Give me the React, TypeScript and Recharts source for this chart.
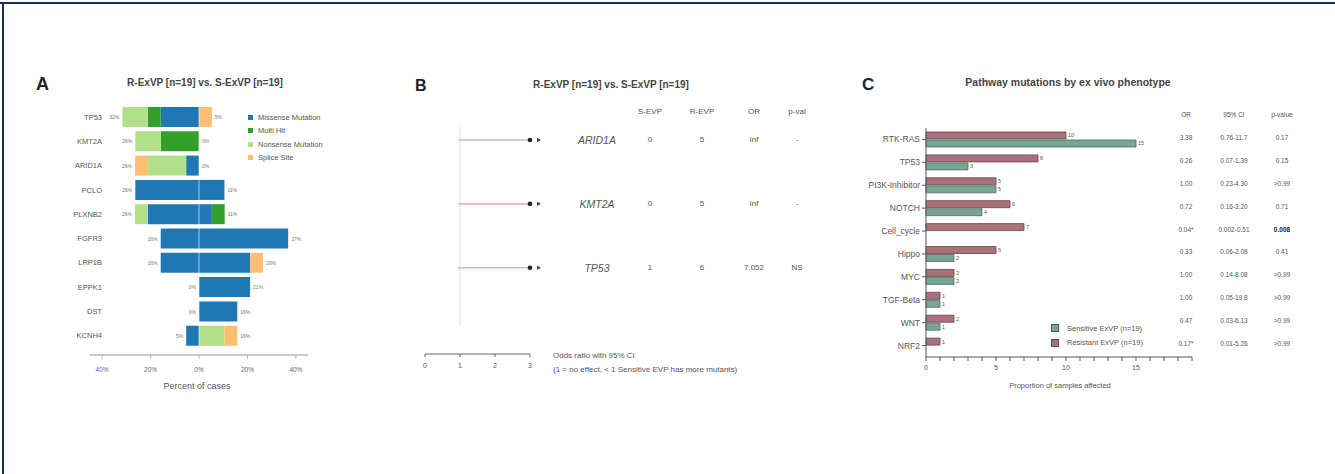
import {
  Bar,
  BarChart,
  ComposedChart,
  ErrorBar,
  LabelList,
  Legend,
  ReferenceLine,
  Scatter,
  XAxis,
  YAxis,
} from "recharts";

const FONT = "'Liberation Sans', Arial, Helvetica, sans-serif";

// ---- Panel A: mutation types, R-ExVP (left) vs S-ExVP (right), % of cases
const genesA = ["TP53", "KMT2A", "ARID1A", "PCLO", "PLXNB2", "FGFR3", "LRP1B", "EPPK1", "DST", "KCNH4"];
const rMissense = [15.8, 0, 5.3, 26.3, 21.1, 15.8, 15.8, 0, 0, 5.3];
const rMultiHit = [5.3, 15.8, 0, 0, 0, 0, 0, 0, 0, 0];
const rNonsense = [10.5, 10.5, 15.8, 0, 5.3, 0, 0, 0, 0, 0];
const rSplice = [0, 0, 5.3, 0, 0, 0, 0, 0, 0, 0];
const sMissense = [0, 0, 0, 10.5, 5.3, 36.8, 21.1, 21.1, 15.8, 0];
const sMultiHit = [0, 0, 0, 0, 5.3, 0, 0, 0, 0, 0];
const sNonsense = [0, 0, 0, 0, 0, 0, 0, 0, 0, 10.5];
const sSplice = [5.3, 0, 0, 0, 0, 0, 5.3, 0, 0, 5.3];
const rPctLabels = ["32%", "26%", "26%", "26%", "26%", "16%", "16%", "0%", "0%", "5%"];
const sPctLabels = ["5%", "0%", "0%", "11%", "11%", "37%", "26%", "21%", "16%", "16%"];
const ticksA = [-40, -20, 0, 20, 40];
const legendNamesA = ["Missense Mutation", "Multi Hit", "Nonsense Mutation", "Splice Site"];

// ---- Panel B: odds ratios
const genesB = ["ARID1A", "KMT2A", "TP53"];
const sEvp = [0, 0, 1];
const rEvp = [5, 5, 6];
const orText = ["Inf", "Inf", "7.052"];
const pText = ["-", "-", "NS"];
const orShown = [3, 3, 3]; // clipped at the axis end, arrow marks overflow
const ciLow = [0.95, 0.95, 0.93];
const rowPosB = [3, 2, 1];
const HEADER_POS = 3.45;

// ---- Panel C: pathway mutations
const pathways = ["RTK-RAS", "TP53", "PI3K-Inhibitor", "NOTCH", "Cell_cycle", "Hippo", "MYC", "TGF-Beta", "WNT", "NRF2"];
const resistant = [10, 8, 5, 6, 7, 5, 2, 1, 2, 1];
const sensitive = [15, 3, 5, 4, 0, 2, 2, 1, 1, 0];
const orC = ["3.38", "0.26", "1.00", "0.72", "0.04*", "0.33", "1.00", "1.00", "0.47", "0.17*"];
const ciC = ["0.76-11.7", "0.07-1.39", "0.23-4.30", "0.16-3.20", "0.002-0.51", "0.06-2.08", "0.14-8.08", "0.05-19.8", "0.03-6.13", "0.01-5.26"];
const pC = ["0.17", "0.15", ">0.99", "0.71", "0.008", "0.41", ">0.99", ">0.99", ">0.99", ">0.99"];
const sigC = [false, false, false, false, true, false, false, false, false, false];
const ticksC = Array.from({ length: 20 }, (_, i) => i);

const COL = {
  missense: "#1f78b4",
  multi: "#33a02c",
  nonsense: "#b2df8a",
  splice: "#fdbf6f",
  res: "#a8727a",
  resStroke: "#6b4148",
  sen: "#79a694",
  senStroke: "#4b6f61",
};

const sum = (...v: number[]) => v.reduce((a, b) => a + b, 0);

const rowsA = genesA.map((gene, i) => ({
  gene,
  rMis: -rMissense[i],
  rMul: -rMultiHit[i],
  rNon: -rNonsense[i],
  rSpl: -rSplice[i],
  sMis: sMissense[i],
  sMul: sMultiHit[i],
  sNon: sNonsense[i],
  sSpl: sSplice[i],
  lPos: -sum(rMissense[i], rMultiHit[i], rNonsense[i], rSplice[i]),
  rPos: sum(sMissense[i], sMultiHit[i], sNonsense[i], sSplice[i]),
  lText: rPctLabels[i],
  rText: sPctLabels[i],
}));

const rowsB = genesB.map((gene, i) => ({
  gene,
  pos: rowPosB[i],
  or: orShown[i],
  lo: ciLow[i],
}));

const rowsC = pathways.map((path, i) => ({ path, res: resistant[i], sen: sensitive[i] }));

function GeneTickA(props: any) {
  const { x, y, payload } = props;
  return (
    <text x={x + 20} y={y} textAnchor="end" dominantBaseline="central" fontSize={7.5} fill="#555">
      {payload.value}
    </text>
  );
}

function LegendBox({ payload, reverse }: any) {
  const items = reverse ? [...(payload || [])].reverse() : payload || [];
  return (
    <div style={{ fontFamily: FONT }}>
      {items.map((p: any) => (
        <div key={p.value} style={{ display: "flex", alignItems: "center", height: reverse ? 14.5 : 13.3, fontSize: 7.5, color: "#555", whiteSpace: "nowrap" }}>
          <span style={{ width: reverse ? 6 : 5, height: reverse ? 6 : 5, background: p.color, marginRight: reverse ? 8 : 5, border: reverse ? "0.8px solid #555" : "none" }} />
          {p.value}
        </div>
      ))}
    </div>
  );
}

function TableTickB(props: any) {
  const { x, y, payload } = props;
  const cols = [59, 112, 164, 216, 259];
  if (Math.abs(payload.value - HEADER_POS) < 0.01) {
    return (
      <g fontSize={8} fill="#555">
        <text x={x + cols[1]} y={y} textAnchor="middle" dominantBaseline="central">S-EVP</text>
        <text x={x + cols[2]} y={y} textAnchor="middle" dominantBaseline="central">R-EVP</text>
        <text x={x + cols[3]} y={y} textAnchor="middle" dominantBaseline="central">OR</text>
        <text x={x + cols[4]} y={y} textAnchor="middle" dominantBaseline="central">p-val</text>
      </g>
    );
  }
  const i = rowPosB.indexOf(payload.value);
  if (i < 0) return <g />;
  return (
    <g fill="#555" fontSize={8}>
      <text x={x + cols[0]} y={y} textAnchor="middle" dominantBaseline="central" fontSize={10.5} fontStyle="italic">
        {genesB[i]}
      </text>
      <text x={x + cols[1]} y={y} textAnchor="middle" dominantBaseline="central">{sEvp[i]}</text>
      <text x={x + cols[2]} y={y} textAnchor="middle" dominantBaseline="central">{rEvp[i]}</text>
      <text x={x + cols[3]} y={y} textAnchor="middle" dominantBaseline="central">{orText[i]}</text>
      <text x={x + cols[4]} y={y} textAnchor="middle" dominantBaseline="central">{pText[i]}</text>
    </g>
  );
}

function TableTickC(props: any) {
  const { x, y, index } = props;
  const cols = [-14, 34, 82];
  const ty = y - 2;
  return (
    <g fill="#555" fontSize={6.5}>
      {index === 0 && (
        <g>
          <text x={x + cols[0]} y={ty - 23} textAnchor="middle" dominantBaseline="central">OR</text>
          <text x={x + cols[1]} y={ty - 23} textAnchor="middle" dominantBaseline="central">95% CI</text>
          <text x={x + cols[2]} y={ty - 23} textAnchor="middle" dominantBaseline="central">p-value</text>
        </g>
      )}
      <text x={x + cols[0]} y={ty} textAnchor="middle" dominantBaseline="central">{orC[index]}</text>
      <text x={x + cols[1]} y={ty} textAnchor="middle" dominantBaseline="central">{ciC[index]}</text>
      <text x={x + cols[2]} y={ty} textAnchor="middle" dominantBaseline="central" fontWeight={sigC[index] ? 700 : 400} fill={sigC[index] ? "#222" : "#555"}>
        {pC[index]}
      </text>
    </g>
  );
}

function ForestDot(props: any) {
  const { cx, cy } = props;
  return (
    <g>
      <circle cx={cx} cy={cy} r={2.3} fill="#222" />
      <polygon points={`${cx + 7},${cy - 2.2} ${cx + 11},${cy} ${cx + 7},${cy + 2.2}`} fill="#444" />
    </g>
  );
}

export default function App() {
  return (
    <div style={{ position: "absolute", left: 0, top: 0, width: 1335, height: 474, background: "#fff", fontFamily: FONT, overflow: "hidden" }}>
      <div style={{ position: "absolute", left: 0, top: 2, width: 1335, height: 2, background: "#1d2c5e" }} />
      <div style={{ position: "absolute", left: 2, top: 2, width: 2, height: 472, background: "#1d2c5e" }} />

      <svg width={1335} height={474} style={{ position: "absolute", left: 0, top: 0 }}>
        <g fontFamily={FONT}>
          <text x={36} y={90} fontSize={18} fontWeight={700} fill="#222">A</text>
          <text x={415} y={91} fontSize={16} fontWeight={700} fill="#222">B</text>
          <text x={862} y={90} fontSize={17} fontWeight={700} fill="#222">C</text>
          <text x={205} y={86} fontSize={10} fontWeight={700} fill="#444" textAnchor="middle">R-ExVP [n=19] vs. S-ExVP [n=19]</text>
          <text x={611} y={88} fontSize={10} fontWeight={700} fill="#444" textAnchor="middle">R-ExVP [n=19] vs. S-ExVP [n=19]</text>
          <text x={1068} y={86} fontSize={10.5} fontWeight={700} fill="#444" textAnchor="middle">Pathway mutations by ex vivo phenotype</text>
          <text x={197} y={389} fontSize={9} fill="#555" textAnchor="middle">Percent of cases</text>
          <text x={553} y={358} fontSize={8} fill="#555">Odds ratio with 95% CI</text>
          <text x={553} y={372} fontSize={8} fill="#555">(1 = no effect, &lt; 1 Sensitive EVP has more mutants)</text>
          <text x={1060} y={388} fontSize={7.5} fill="#555" textAnchor="middle">Proportion of samples affected</text>
        </g>
      </svg>

      {/* Panel A */}
      <div style={{ position: "absolute", left: 0, top: 0 }}>
        <ComposedChart
          layout="vertical"
          width={340}
          height={400}
          data={rowsA}
          stackOffset="sign"
          margin={{ top: 105, right: 32, bottom: 15, left: 30 }}
        >
          <XAxis
            type="number"
            domain={[-45, 45]}
            ticks={ticksA}
            allowDataOverflow
            tickFormatter={(v: number) => `${Math.abs(v)}%`}
            tick={{ fontSize: 6.5, fill: "#666" }}
            axisLine={{ stroke: "#bbb", strokeWidth: 1.5 }}
            tickLine={{ stroke: "#bbb" }}
            tickSize={4}
            tickMargin={8}
            height={30}
          />
          <YAxis type="category" dataKey="gene" width={60} axisLine={false} tickLine={false} tick={<GeneTickA />} padding={{ top: 0, bottom: 7 }} />
          <Bar dataKey="rMis" stackId="a" fill={COL.missense} name="Missense Mutation" barSize={20} isAnimationActive={false} legendType="square" />
          <Bar dataKey="rMul" stackId="a" fill={COL.multi} name="Multi Hit" barSize={20} isAnimationActive={false} legendType="square" />
          <Bar dataKey="rNon" stackId="a" fill={COL.nonsense} name="Nonsense Mutation" barSize={20} isAnimationActive={false} legendType="square" />
          <Bar dataKey="rSpl" stackId="a" fill={COL.splice} name="Splice Site" barSize={20} isAnimationActive={false} legendType="square" />
          <Bar dataKey="sMis" stackId="a" fill={COL.missense} barSize={20} isAnimationActive={false} legendType="none" />
          <Bar dataKey="sMul" stackId="a" fill={COL.multi} barSize={20} isAnimationActive={false} legendType="none" />
          <Bar dataKey="sNon" stackId="a" fill={COL.nonsense} barSize={20} isAnimationActive={false} legendType="none" />
          <Bar dataKey="sSpl" stackId="a" fill={COL.splice} barSize={20} isAnimationActive={false} legendType="none" />
          <ReferenceLine x={0} stroke="#ffffff" strokeOpacity={0.6} strokeWidth={1} />
          <Scatter
            dataKey="lPos"
            isAnimationActive={false}
            legendType="none"
            shape={(p: any) => (
              <text x={p.cx - 3} y={p.cy} textAnchor="end" dominantBaseline="central" fontSize={5} fill="#777">
                {p.payload.lText}
              </text>
            )}
          />
          <Scatter
            dataKey="rPos"
            isAnimationActive={false}
            legendType="none"
            shape={(p: any) => (
              <text x={p.cx + 3} y={p.cy} textAnchor="start" dominantBaseline="central" fontSize={5} fill="#777">
                {p.payload.rText}
              </text>
            )}
          />
          <Legend
            layout="vertical"
            align="center"
            verticalAlign="middle"
            wrapperStyle={{ left: 248, top: 111, width: 100 }}
            content={(p: any) => (
              <LegendBox payload={(p.payload || []).filter((x: any) => legendNamesA.includes(x.value))} />
            )}
          />
        </ComposedChart>
      </div>

      {/* Panel B */}
      <div style={{ position: "absolute", left: 400, top: 0 }}>
        <ComposedChart width={420} height={400} data={rowsB} margin={{ top: 108, right: 0, bottom: 16, left: 25 }}>
          <XAxis
            type="number"
            dataKey="or"
            domain={[0, 3]}
            ticks={[0, 1, 2, 3]}
            tick={{ fontSize: 7, fill: "#555" }}
            axisLine={{ stroke: "#666" }}
            tickLine={{ stroke: "#666" }}
            tickSize={3}
            tickMargin={6}
            height={30}
          />
          <YAxis yAxisId="l" type="number" dataKey="pos" domain={[-0.35, 3.5]} hide />
          <YAxis
            yAxisId="t"
            orientation="right"
            type="number"
            dataKey="pos"
            domain={[-0.35, 3.5]}
            ticks={[1, 2, 3, HEADER_POS]}
            interval={0}
            width={290}
            axisLine={false}
            tickLine={false}
            tick={<TableTickB />}
          />
          <ReferenceLine yAxisId="l" segment={[{ x: 1, y: 0.08 }, { x: 1, y: 3.2 }]} stroke="#dcdcdc" />
          <Scatter yAxisId="t" dataKey="or" isAnimationActive={false} shape={() => <g />} />
          <Scatter yAxisId="l" dataKey="or" isAnimationActive={false} shape={<ForestDot />}>
            <ErrorBar
              dataKey={(d: any) => [d.or - d.lo, 0]}
              direction="x"
              width={0}
              stroke="#e6b3bf"
              strokeWidth={1.6}
              isAnimationActive={false}
            />
          </Scatter>
        </ComposedChart>
      </div>

      {/* Panel C */}
      <div style={{ position: "absolute", left: 840, top: 0 }}>
        <BarChart
          layout="vertical"
          width={490}
          height={400}
          data={rowsC}
          barSize={7}
          barGap={1}
          margin={{ top: 128, right: 0, bottom: 13, left: 6 }}
        >
          <XAxis
            type="number"
            domain={[0, 19]}
            ticks={ticksC}
            interval={0}
            tickFormatter={(v: number) => (v % 5 === 0 && v <= 15 ? String(v) : "")}
            tick={{ fontSize: 7, fill: "#555" }}
            axisLine={{ stroke: "#555" }}
            tickLine={{ stroke: "#555" }}
            tickSize={4}
            tickMargin={4}
            height={30}
          />
          <YAxis
            type="category"
            dataKey="path"
            width={80}
            tick={{ fontSize: 8.5, fill: "#555" }}
            axisLine={{ stroke: "#555" }}
            tickLine={{ stroke: "#555" }}
            tickSize={4}
            tickMargin={2}
          />
          <YAxis
            yAxisId="t"
            orientation="right"
            type="category"
            dataKey="path"
            width={138}
            axisLine={false}
            tickLine={false}
            tick={<TableTickC />}
            interval={0}
          />
          <Bar dataKey="res" name="Resistant ExVP (n=19)" fill={COL.res} stroke={COL.resStroke} strokeWidth={0.8} isAnimationActive={false} legendType="square">
            <LabelList dataKey="res" position="right" offset={2} fontSize={5.5} fill="#555" />
          </Bar>
          <Bar dataKey="sen" name="Sensitive ExVP (n=19)" fill={COL.sen} stroke={COL.senStroke} strokeWidth={0.8} isAnimationActive={false} legendType="square">
            <LabelList dataKey="sen" position="right" offset={2} fontSize={5.5} fill="#555" />
          </Bar>
          <Scatter yAxisId="t" dataKey="sen" isAnimationActive={false} legendType="none" shape={() => <g />} />
          <Legend
            layout="vertical"
            align="center"
            verticalAlign="middle"
            wrapperStyle={{ left: 211, top: 321, width: 120 }}
            content={(p: any) => <LegendBox payload={(p.payload || []).filter((x: any) => x.type !== "none")} reverse />}
          />
        </BarChart>
      </div>
    </div>
  );
}
